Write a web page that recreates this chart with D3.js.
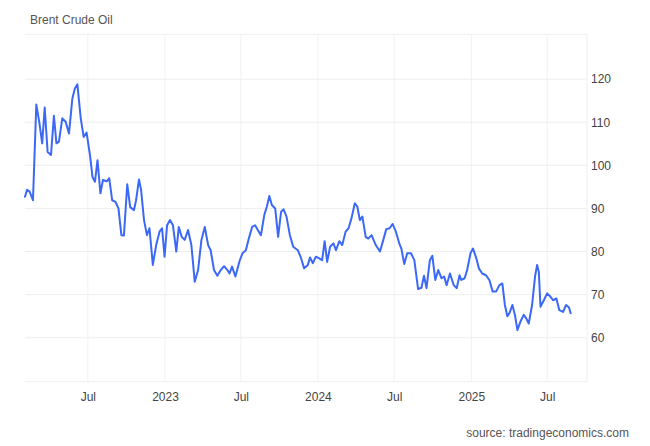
<!DOCTYPE html>
<html>
<head>
<meta charset="utf-8">
<script src="https://cdn.jsdelivr.net/npm/d3@7"></script>
<style>
  html, body { margin: 0; padding: 0; background: #fff; }
  svg { display: block; }
  text { font-family: "Liberation Sans", Arial, sans-serif; }
</style>
</head>
<body>
<svg id="chart" width="650" height="446"></svg>
<script>
const title = "Brent Crude Oil";
const source = "source: tradingeconomics.com";

const dates = [
"2022-02-01","2022-02-06","2022-02-12","2022-02-20","2022-02-28","2022-03-07","2022-03-14","2022-03-20","2022-03-27","2022-04-04","2022-04-11","2022-04-17","2022-04-23","2022-05-01","2022-05-09","2022-05-17","2022-05-25","2022-05-31","2022-06-06","2022-06-14","2022-06-21","2022-06-28","2022-07-06","2022-07-12","2022-07-18","2022-07-24","2022-07-31","2022-08-06","2022-08-15","2022-08-21","2022-08-28","2022-09-05","2022-09-12","2022-09-19","2022-09-25","2022-10-03","2022-10-10","2022-10-19","2022-10-24","2022-10-31","2022-11-05","2022-11-12","2022-11-19","2022-11-25","2022-12-03","2022-12-11","2022-12-19","2022-12-25","2022-12-31",
"2023-01-06","2023-01-13","2023-01-20","2023-01-28","2023-02-03","2023-02-10","2023-02-17","2023-02-25","2023-03-05","2023-03-13","2023-03-21","2023-03-29","2023-04-06","2023-04-14","2023-04-20","2023-04-28","2023-05-06","2023-05-14","2023-05-22","2023-05-30","2023-06-04","2023-06-10","2023-06-18","2023-06-28","2023-07-05","2023-07-13","2023-07-20","2023-07-28","2023-08-04","2023-08-13","2023-08-18","2023-08-26","2023-09-01","2023-09-07","2023-09-13","2023-09-21","2023-09-28","2023-10-05","2023-10-11","2023-10-18","2023-10-26","2023-11-03","2023-11-14","2023-11-22","2023-11-29","2023-12-08","2023-12-13","2023-12-20","2023-12-27",
"2024-01-04","2024-01-11","2024-01-17","2024-01-23","2024-01-30","2024-02-07","2024-02-13","2024-02-21","2024-02-28","2024-03-07","2024-03-14","2024-03-21","2024-03-29","2024-04-04","2024-04-10","2024-04-16","2024-04-24","2024-04-30","2024-05-08","2024-05-18","2024-05-28","2024-06-05","2024-06-12","2024-06-20","2024-06-27","2024-07-05","2024-07-13","2024-07-18","2024-07-25","2024-08-01","2024-08-10","2024-08-18","2024-08-27","2024-09-04","2024-09-10","2024-09-16","2024-09-24","2024-09-30","2024-10-07","2024-10-14","2024-10-22","2024-10-28","2024-11-03","2024-11-11","2024-11-20","2024-11-27","2024-12-04","2024-12-08","2024-12-16","2024-12-22","2024-12-30",
"2025-01-05","2025-01-13","2025-01-19","2025-01-27","2025-02-05","2025-02-13","2025-02-21","2025-03-01","2025-03-09","2025-03-16","2025-03-22","2025-03-28","2025-04-02","2025-04-09","2025-04-15","2025-04-21","2025-04-28","2025-05-06","2025-05-12","2025-05-18","2025-05-26","2025-06-02","2025-06-07","2025-06-11","2025-06-15","2025-06-23","2025-07-01","2025-07-09","2025-07-15","2025-07-23","2025-07-30","2025-08-08","2025-08-15","2025-08-22","2025-08-26"
];

const prices = [
92.7,94.3,93.9,91.9,114.1,110.1,105.1,113.4,103.1,102.4,111.5,105.1,105.5,110.9,110.1,107.4,115.5,117.8,118.8,110.9,106.6,107.6,102.4,97.3,96.2,101.2,93.5,96.6,96.3,97.0,91.9,91.5,90.0,83.8,83.7,95.6,90.3,89.6,91.9,96.7,94.3,87.3,83.8,85.4,76.9,81.5,84.6,85.4,78.8,
86.1,87.3,86.1,80.0,85.7,83.4,82.7,85.0,81.5,73.0,75.7,82.7,85.7,81.5,80.3,75.7,74.4,75.7,76.6,75.7,74.9,76.5,74.2,77.8,79.6,80.3,83.0,85.7,86.1,84.6,83.8,88.5,90.4,92.9,90.8,90.0,83.4,89.2,89.8,88.1,83.8,81.1,80.3,78.4,76.1,76.9,78.6,77.3,78.8,
78.4,78.0,82.4,77.6,81.1,81.9,80.3,82.4,81.5,84.6,85.4,87.7,91.2,90.4,87.3,88.1,83.4,83.0,83.8,81.5,80.0,82.7,85.2,85.4,86.4,84.6,81.9,80.7,77.1,79.6,79.6,78.0,71.3,71.6,74.4,71.5,78.0,79.0,73.4,75.7,73.8,74.2,72.2,74.9,72.2,71.5,74.5,73.4,73.8,75.7,79.6,
80.7,78.4,76.1,74.9,74.5,73.4,70.7,70.7,72.2,72.6,67.6,65.0,65.7,67.6,65.3,61.8,63.7,65.3,64.5,63.3,67.6,74.2,76.9,75.3,67.2,68.7,70.3,69.5,68.7,69.1,66.4,66.0,67.6,67.0,65.7
];

const xTickDates = ["2022-07-01","2023-01-01","2023-07-01","2024-01-01","2024-07-01","2025-01-01","2025-07-01"];
const xTickLabels = ["Jul","2023","Jul","2024","Jul","2025","Jul"];
const yTicks = [60,70,80,90,100,110,120];
const xDomain = ["2022-02-01","2025-10-04"];
const yDomain = [49.8, 130.4];

const parse = d3.utcParse("%Y-%m-%d");
const data = dates.map((d, i) => ({ date: parse(d), value: prices[i] }));

const plot = { left: 25, right: 587, top: 34.3, bottom: 381.7 };
const svg = d3.select("#chart");

const x = d3.scaleUtc().domain(xDomain.map(parse)).range([plot.left, plot.right]);
const y = d3.scaleLinear().domain(yDomain).range([plot.bottom, plot.top]);

// vertical gridlines
svg.append("g").selectAll("line")
  .data(xTickDates.map(parse))
  .join("line")
  .attr("x1", d => x(d)).attr("x2", d => x(d))
  .attr("y1", plot.top).attr("y2", plot.bottom)
  .attr("stroke", "#eef2f4").attr("stroke-width", 1);

// horizontal gridlines
svg.append("g").selectAll("line")
  .data(yTicks.concat(yDomain))
  .join("line")
  .attr("x1", plot.left).attr("x2", plot.right)
  .attr("y1", d => y(d)).attr("y2", d => y(d))
  .attr("stroke", "#eeeeee").attr("stroke-width", 1);

// right axis line
svg.append("line")
  .attr("x1", plot.right).attr("x2", plot.right)
  .attr("y1", plot.top).attr("y2", plot.bottom)
  .attr("stroke", "#eeeeee").attr("stroke-width", 1);

// y axis (right)
const yAxis = d3.axisRight(y).tickValues(yTicks).tickSize(0).tickPadding(4);
const gy = svg.append("g").attr("transform", `translate(${plot.right},0)`).call(yAxis);
gy.select(".domain").remove();
gy.selectAll("text").attr("font-size", 12).attr("fill", "#444")
  .attr("font-family", "'Liberation Sans', Arial, sans-serif");

// x axis
const xAxis = d3.axisBottom(x).tickValues(xTickDates.map(parse))
  .tickFormat((d, i) => xTickLabels[i]).tickSize(0).tickPadding(11);
const gx = svg.append("g").attr("transform", `translate(0,${plot.bottom})`).call(xAxis);
gx.select(".domain").remove();
gx.selectAll("text").attr("font-size", 12).attr("fill", "#444")
  .attr("font-family", "'Liberation Sans', Arial, sans-serif");

// line
const line = d3.line().x(d => x(d.date)).y(d => y(d.value)).curve(d3.curveLinear);
svg.append("path").datum(data)
  .attr("d", line)
  .attr("fill", "none")
  .attr("stroke", "#3b68f6")
  .attr("stroke-width", 2)
  .attr("stroke-linejoin", "round")
  .attr("stroke-linecap", "round");

// title and source
svg.append("text").attr("x", 30).attr("y", 24)
  .attr("font-size", 12).attr("fill", "#555").text(title);
svg.append("text").attr("x", 629).attr("y", 437)
  .attr("text-anchor", "end")
  .attr("font-size", 12).attr("fill", "#555").text(source);
</script>
</body>
</html>
